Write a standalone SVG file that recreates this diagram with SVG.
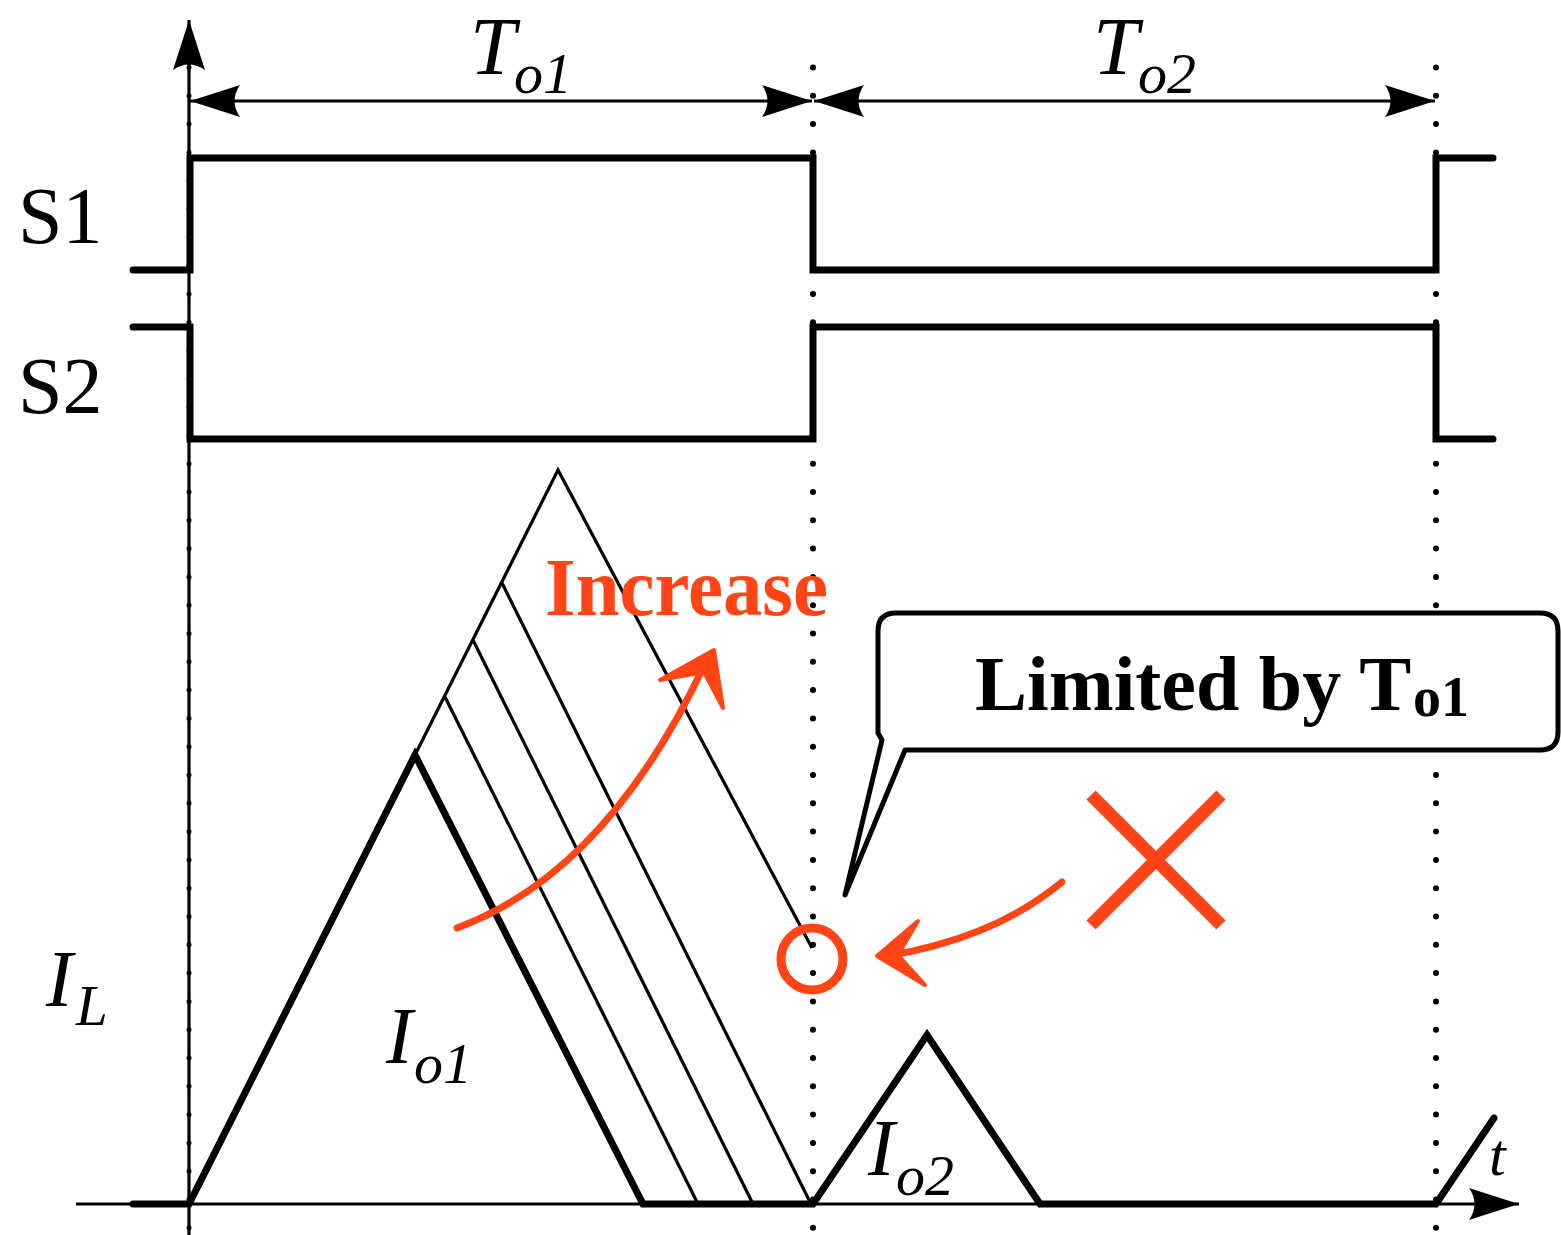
<svg xmlns="http://www.w3.org/2000/svg" width="1561" height="1235" viewBox="0 0 1561 1235">
<style>
.wave{fill:none;stroke:#000;stroke-width:7;stroke-linejoin:miter;stroke-miterlimit:6;stroke-linecap:round}
.thin{fill:none;stroke:#000;stroke-width:3.2}
.dots{fill:none;stroke:#000;stroke-width:6;stroke-linecap:round;stroke-dasharray:0 28.3}
.adots{fill:none;stroke:#000;stroke-width:5;stroke-linecap:round;stroke-dasharray:0 28.3}
.lbl{font-family:"Liberation Serif","Times New Roman",serif;fill:#000}
.it{font-style:italic}
.red{fill:none;stroke:#FF4515;stroke-linecap:round;stroke-linejoin:round}
</style>
<defs>
<marker id="ah" viewBox="-50 -16 50 32" refX="0" refY="0" markerWidth="50" markerHeight="32" markerUnits="userSpaceOnUse" orient="auto-start-reverse" overflow="visible">
<path d="M0,0 Q-22,-7 -50,-16 Q-39,0 -50,16 Q-22,7 0,0 Z" fill="#000"/>
</marker>
</defs>
<rect width="1561" height="1235" fill="#fff"/>

<g id="grid">
<line class="dots" x1="813" y1="67.5" x2="813" y2="1235"/>
<line class="dots" x1="1436" y1="67.5" x2="1436" y2="1235"/>
<line class="adots" x1="189" y1="67.5" x2="189" y2="1235"/>
</g>

<g id="axes">
<line class="thin" x1="189" y1="1235" x2="189" y2="20" marker-end="url(#ah)"/>
<line class="thin" x1="76" y1="1204" x2="1519" y2="1204" marker-end="url(#ah)"/>
</g>

<g id="connectors">
<line class="thin" x1="190" y1="101" x2="812" y2="101" marker-start="url(#ah)" marker-end="url(#ah)"/>
<line class="thin" x1="814" y1="101" x2="1435" y2="101" marker-start="url(#ah)" marker-end="url(#ah)"/>
</g>

<g id="S1-wave">
<path class="wave" d="M133,270 H190 V158 H813 V270 H1436 V158 H1493"/>
</g>
<g id="S2-wave">
<path class="wave" d="M133,327 H190 V439 H813 V327 H1436 V439 H1493"/>
</g>

<g id="IL-wave">
<path class="thin" d="M415,755 L558,470 L812,948"/>
<line class="thin" x1="445" y1="697" x2="698" y2="1204"/>
<line class="thin" x1="473" y1="640" x2="753" y2="1204"/>
<line class="thin" x1="502" y1="583" x2="811" y2="1204"/>
<path class="wave" d="M133,1204 H189 L415,755 L643,1204 H813 L927,1035 L1040,1204 H1436 L1494,1118"/>
</g>

<g id="labels">
<text class="lbl" x="18" y="243" font-size="80">S1</text>
<text class="lbl" x="18" y="413" font-size="80">S2</text>
<text class="lbl it" x="470" y="74" font-size="82">T</text>
<text class="lbl it" x="514" y="93" font-size="58">o1</text>
<text class="lbl it" x="1093" y="74" font-size="82">T</text>
<text class="lbl it" x="1138" y="93" font-size="58">o2</text>
<text class="lbl it" x="46" y="1006" font-size="80">I</text>
<text class="lbl it" x="76" y="1025" font-size="57">L</text>
<text class="lbl it" x="386" y="1063" font-size="80">I</text>
<text class="lbl it" x="414" y="1083" font-size="58">o1</text>
<text class="lbl it" x="868" y="1175" font-size="80">I</text>
<text class="lbl it" x="896" y="1195" font-size="58">o2</text>
<text class="lbl it" x="1489" y="1175" font-size="60">t</text>
</g>

<g id="increase-note">
<text x="545" y="615" font-size="82" font-weight="bold" font-family="'Liberation Serif','Times New Roman',serif" fill="#FF4515" textLength="283" lengthAdjust="spacingAndGlyphs">Increase</text>
<path class="red" stroke-width="7" d="M457,928 C560,890 640,800 703,668"/>
<path d="M660,680 L714,650 L723,708 L704,672 Z" fill="#FF4515" stroke="#FF4515" stroke-width="4" stroke-linejoin="round"/>
</g>

<g id="callout">
<path d="M878,631 Q878,613 896,613 H1540 Q1558,613 1558,631 V732 Q1558,750 1540,750 H905 L845,895 L882,740 L878,733 Z" fill="#fff" stroke="#000" stroke-width="5" stroke-linejoin="round"/>
<text class="lbl" x="975" y="710" font-size="78" font-weight="bold">Limited by T</text>
<text class="lbl" x="1413" y="716" font-size="56" font-weight="bold">o1</text>
</g>

<g id="limit-mark">
<circle cx="812" cy="959" r="31" fill="none" stroke="#FF4515" stroke-width="9"/>
<path class="red" stroke-width="7" d="M1062,882 C1010,925 950,945 888,956"/>
<path d="M918,921 L877,956 L925,985 L898,955 Z" fill="#FF4515" stroke="#FF4515" stroke-width="4" stroke-linejoin="round"/>
<path d="M1091,795 L1221,925 M1221,795 L1091,925" fill="none" stroke="#FF4515" stroke-width="13"/>
</g>
</svg>
